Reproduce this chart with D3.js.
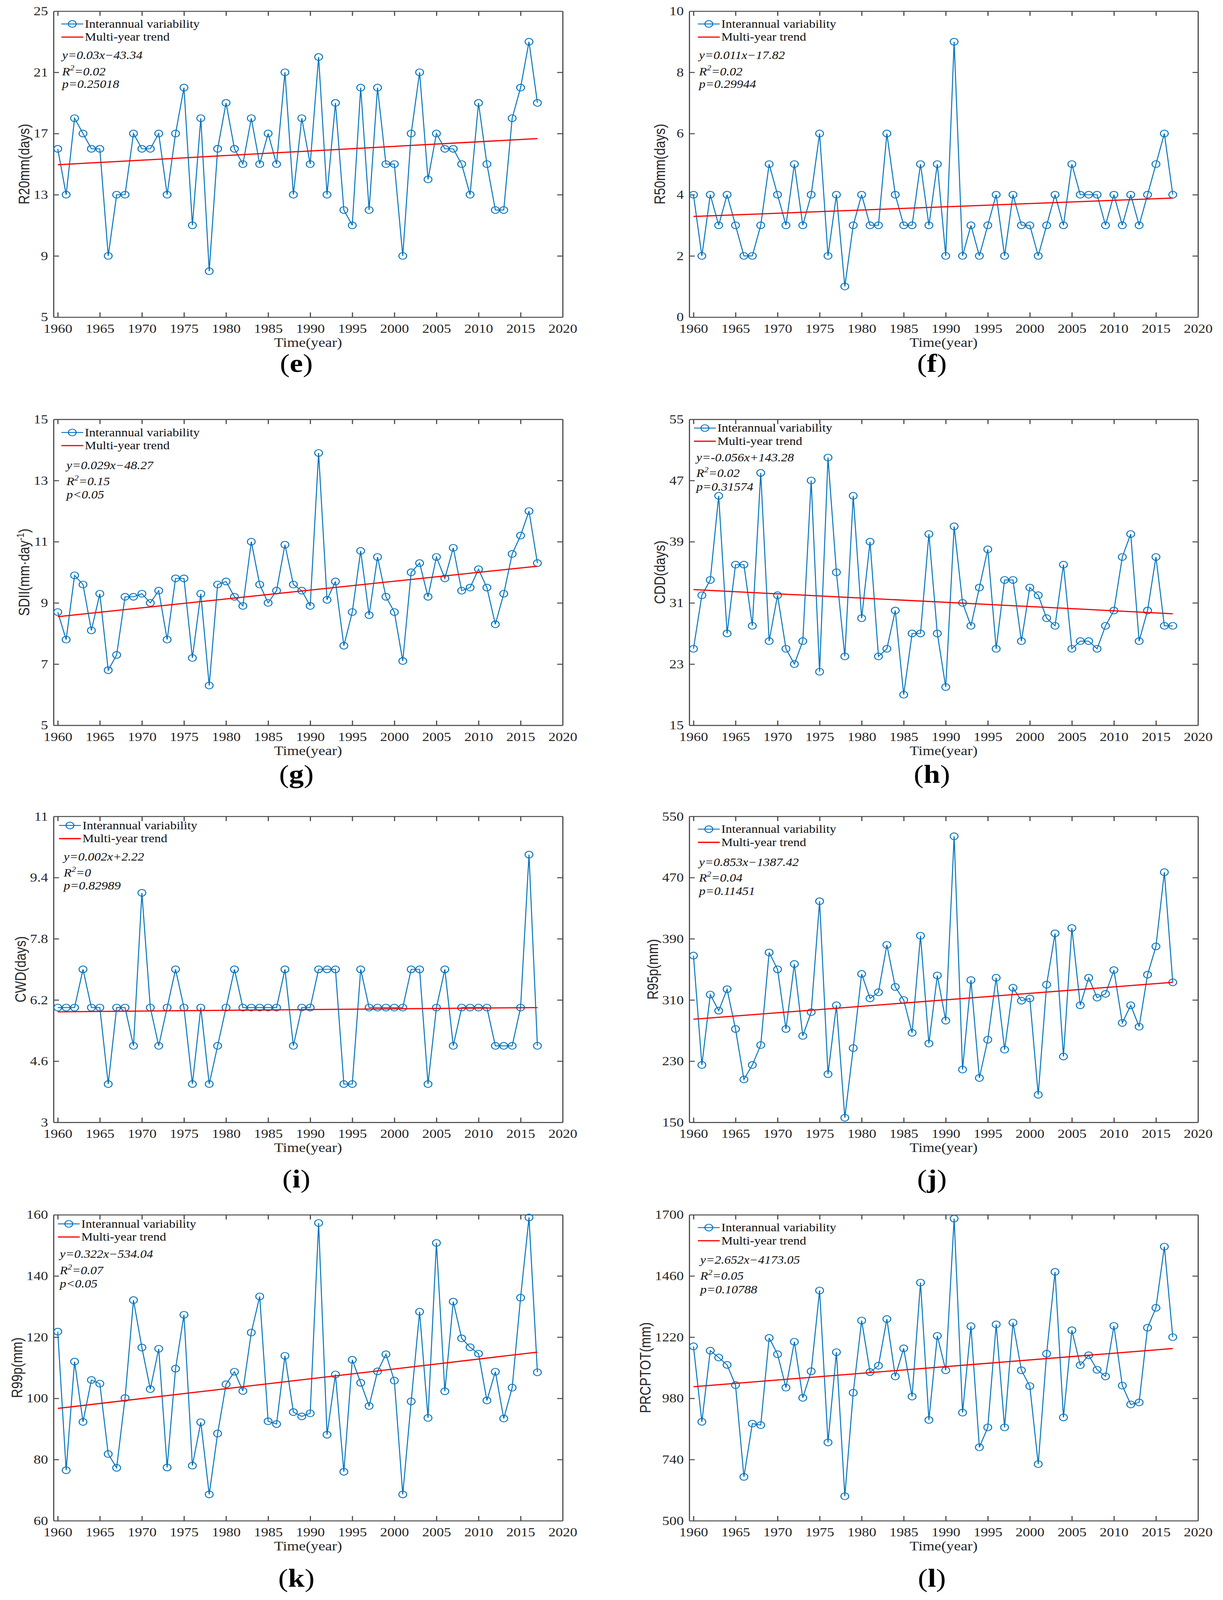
<!DOCTYPE html>
<html>
<head>
<meta charset="utf-8">
<script src="https://cdn.jsdelivr.net/npm/d3@7"></script>
<style>
  html, body { margin: 0; background: #fff; overflow: hidden; }
  svg { display: block; }
</style>
</head>
<body>
<div id="chart"></div>
<script>
// years on the x axis
var years = d3.range(1960, 2018);
var xTicks = [1960, 1965, 1970, 1975, 1980, 1985, 1990, 1995, 2000, 2005, 2010, 2015, 2020];

// series, 1960..2017
var r20mm = [16, 13, 18, 17, 16, 16, 9, 13, 13, 17,
    16, 16, 17, 13, 17, 20, 11, 18, 8, 16,
    19, 16, 15, 18, 15, 17, 15, 21, 13, 18,
    15, 22, 13, 19, 12, 11, 20, 12, 20, 15,
    15, 9, 17, 21, 14, 17, 16, 16, 15, 13,
    19, 15, 12, 12, 18, 20, 23, 19];
var r50mm = [4, 2, 4, 3, 4, 3, 2, 2, 3, 5,
    4, 3, 5, 3, 4, 6, 2, 4, 1, 3,
    4, 3, 3, 6, 4, 3, 3, 5, 3, 5,
    2, 9, 2, 3, 2, 3, 4, 2, 4, 3,
    3, 2, 3, 4, 3, 5, 4, 4, 4, 3,
    4, 3, 4, 3, 4, 5, 6, 4];
var sdii = [8.7, 7.8, 9.9, 9.6, 8.1, 9.3, 6.8, 7.3, 9.2, 9.2,
    9.3, 9.0, 9.4, 7.8, 9.8, 9.8, 7.2, 9.3, 6.3, 9.6,
    9.7, 9.2, 8.9, 11.0, 9.6, 9.0, 9.4, 10.9, 9.6, 9.4,
    8.9, 13.9, 9.1, 9.7, 7.6, 8.7, 10.7, 8.6, 10.5, 9.2,
    8.7, 7.1, 10.0, 10.3, 9.2, 10.5, 9.8, 10.8, 9.4, 9.5,
    10.1, 9.5, 8.3, 9.3, 10.6, 11.2, 12.0, 10.3];
var cdd = [25, 32, 34, 45, 27, 36, 36, 28, 48, 26,
    32, 25, 23, 26, 47, 22, 50, 35, 24, 45,
    29, 39, 24, 25, 30, 19, 27, 27, 40, 27,
    20, 41, 31, 28, 33, 38, 25, 34, 34, 26,
    33, 32, 29, 28, 36, 25, 26, 26, 25, 28,
    30, 37, 40, 26, 30, 37, 28, 28];
var cwd = [6, 6, 6, 7, 6, 6, 4, 6, 6, 5,
    9, 6, 5, 6, 7, 6, 4, 6, 4, 5,
    6, 7, 6, 6, 6, 6, 6, 7, 5, 6,
    6, 7, 7, 7, 4, 4, 7, 6, 6, 6,
    6, 6, 7, 7, 4, 6, 7, 5, 6, 6,
    6, 6, 5, 5, 5, 6, 10, 5];
var r95p = [368, 225, 317, 296, 324, 272, 206, 225, 251, 372,
    350, 272, 357, 263, 294, 439, 213, 303, 156, 247,
    344, 312, 320, 382, 327, 310, 267, 394, 253, 342,
    283, 524, 219, 336, 208, 258, 339, 245, 326, 309,
    312, 186, 330, 397, 236, 404, 303, 339, 313, 318,
    349, 280, 303, 275, 343, 380, 477, 333];
var r99p = [121.8, 76.5, 112, 92.3, 106, 104.8, 81.8, 77.3, 100.1, 132.1,
    116.6, 103, 116.2, 77.4, 109.7, 127.3, 78, 92.2, 68.6, 88.5,
    104.6, 108.7, 102.4, 121.5, 133.3, 92.5, 91.6, 113.9, 95.5, 94.1,
    95.1, 157.3, 88.1, 107.8, 76, 112.6, 105.1, 97.5, 108.8, 114.4,
    105.8, 68.6, 99, 128.3, 93.6, 150.8, 102.3, 131.6, 119.6, 116.7,
    114.6, 99.3, 108.7, 93.4, 103.5, 132.9, 159.1, 108.5];
var prcptot = [1184, 888, 1167, 1140, 1111, 1032, 672, 881, 875, 1217,
    1153, 1022, 1202, 982, 1086, 1403, 807, 1161, 596, 1002,
    1285, 1083, 1108, 1291, 1066, 1176, 987, 1434, 895, 1225,
    1090, 1685, 924, 1263, 788, 866, 1270, 866, 1277, 1090,
    1028, 722, 1155, 1476, 905, 1247, 1110, 1149, 1092, 1066,
    1264, 1030, 956, 964, 1257, 1335, 1575, 1220];

var series = [r20mm, r50mm, sdii, cdd, cwd, r95p, r99p, prcptot];

// multi-year trend, value at 1960 and at 2017
var trendFrom = [14.96, 3.29, 8.55, 32.74, 5.89, 284.8, 96.7, 1025.6];
var trendTo = [16.67, 3.89, 10.2, 29.58, 6.0, 333, 115.1, 1175.3];

// y tick labels per panel
var yTicks = [
    [5, 9, 13, 17, 21, 25],
    [0, 2, 4, 6, 8, 10],
    [5, 7, 9, 11, 13, 15],
    [15, 23, 31, 39, 47, 55],
    [3, 4.6, 6.2, 7.8, 9.4, 11],
    [150, 230, 310, 390, 470, 550],
    [60, 80, 100, 120, 140, 160],
    [500, 740, 980, 1220, 1460, 1700]
];

var yLabels = ["R20mm(days)", "R50mm(days)", "SDII(mm\u00b7day", "CDD(days)",
    "CWD(days)", "R95p(mm)", "R99p(mm)", "PRCPTOT(mm)"];
var panelLetters = ["e", "f", "g", "h", "i", "j", "k", "l"];
var equations = ["y=0.03x\u221243.34", "y=0.011x\u221217.82", "y=0.029x\u221248.27",
    "y=-0.056x+143.28", "y=0.002x+2.22", "y=0.853x\u22121387.42",
    "y=0.322x\u2212534.04", "y=2.652x\u22124173.05"];
var r2Values = ["0.02", "0.02", "0.15", "0.02", "0", "0.04", "0.07", "0.05"];
var pValues = ["=0.25018", "=0.29944", "<0.05", "=0.31574", "=0.82989", "=0.11451", "<0.05", "=0.10788"];
var legendNames = ["Interannual variability", "Multi-year trend"];

// layout, in the reference's 3130 x 4743 frame
var svgWidth = 3130;
var svgHeight = 4743;
var colLeft = [137, 1764];
var colRight = [1440, 3066];
var rowTop = [33, 1243, 2420, 3601];
var plotH = 907;
var letterGap = [162, 170, 193, 196];
var legendPos = [[20, 38], [22, 38], [20, 39], [12, 26], [14, 27], [22, 38], [11, 27], [22, 38]];
var eqPos = [[22, 142, 190, 228], [25, 142, 190, 228], [33, 148, 195, 234], [18, 125, 171, 211],
    [26, 131, 178, 217], [25, 147, 193, 233], [16, 128, 176, 216], [28, 145, 193, 233]];

var blue = "#0072BD";
var red = "#FF0000";
var axisColor = "#4d4d4d";
var textColor = "#262626";
var serif = "'Liberation Serif', 'Times New Roman', serif";
var sans = "'Liberation Sans', Arial, sans-serif";

// the window may be shorter than the figure, so the whole frame is fitted to it
var viewW = window.innerWidth || svgWidth;
var viewH = Math.min(window.innerHeight || svgHeight, svgHeight);

var svg = d3.select("#chart")
    .append("svg")
    .attr("width", viewW)
    .attr("height", viewH)
    .attr("viewBox", `0 0 ${svgWidth} ${svgHeight}`)
    .attr("preserveAspectRatio", "none");

svg.append("rect")
    .attr("width", svgWidth)
    .attr("height", svgHeight)
    .attr("fill", "#fff");

function styleAxis(g) {
    g.selectAll("path, line")
        .attr("stroke", axisColor)
        .attr("stroke-width", 3);
    g.selectAll("text")
        .attr("fill", textColor)
        .style("font-family", serif)
        .style("font-size", "37px");
}

series.forEach(function (vals, i) {
    var col = i % 2;
    var row = Math.floor(i / 2);
    var left = colLeft[col];
    var right = colRight[col];
    var top = rowTop[row];
    var bottom = top + plotH;
    var ticks = yTicks[i];

    var x = d3.scaleLinear().domain([1959.5, 2020]).range([left, right]);
    var y = d3.scaleLinear().domain([ticks[0], ticks[ticks.length - 1]]).range([bottom, top]);

    var g = svg.append("g");

    // axes on four sides, ticks pointing in
    var gb = g.append("g")
        .attr("transform", `translate(0,${bottom})`)
        .call(d3.axisBottom(x).tickValues(xTicks).tickFormat(d3.format("d"))
            .tickSize(-14).tickSizeOuter(0).tickPadding(20));
    var gt = g.append("g")
        .attr("transform", `translate(0,${top})`)
        .call(d3.axisTop(x).tickValues(xTicks).tickFormat("")
            .tickSize(-14).tickSizeOuter(0));
    var gl = g.append("g")
        .attr("transform", `translate(${left},0)`)
        .call(d3.axisLeft(y).tickValues(ticks).tickFormat(d => String(d))
            .tickSize(-14).tickSizeOuter(0).tickPadding(14));
    var gr = g.append("g")
        .attr("transform", `translate(${right},0)`)
        .call(d3.axisRight(y).tickValues(ticks).tickFormat("")
            .tickSize(-14).tickSizeOuter(0));
    [gb, gt, gl, gr].forEach(styleAxis);
    // no tick marks on the corners
    gb.selectAll(".tick").filter(d => d === 2020).select("line").remove();
    gt.selectAll(".tick").filter(d => d === 2020).select("line").remove();
    gl.selectAll(".tick").filter((d, k) => k === 0 || k === ticks.length - 1).select("line").remove();
    gr.selectAll(".tick").filter((d, k) => k === 0 || k === ticks.length - 1).select("line").remove();

    // interannual line + open circles
    var line = d3.line()
        .x((d, k) => x(years[k]))
        .y(d => y(d));
    g.append("path")
        .datum(vals)
        .attr("d", line)
        .attr("fill", "none")
        .attr("stroke", blue)
        .attr("stroke-width", 2.5);
    g.selectAll("circle.pt")
        .data(vals)
        .enter()
        .append("circle")
        .attr("class", "pt")
        .attr("cx", (d, k) => x(years[k]))
        .attr("cy", d => y(d))
        .attr("r", 10)
        .attr("fill", "none")
        .attr("stroke", blue)
        .attr("stroke-width", 2.5);

    // trend
    g.append("line")
        .attr("x1", x(years[0]))
        .attr("y1", y(trendFrom[i]))
        .attr("x2", x(years[years.length - 1]))
        .attr("y2", y(trendTo[i]))
        .attr("stroke", red)
        .attr("stroke-width", 3.5);

    // legend
    var lx = left + legendPos[i][0];
    var ly = top + legendPos[i][1];
    g.append("line")
        .attr("x1", lx).attr("x2", lx + 56)
        .attr("y1", ly).attr("y2", ly)
        .attr("stroke", blue).attr("stroke-width", 2.5);
    g.append("circle")
        .attr("cx", lx + 28).attr("cy", ly).attr("r", 10)
        .attr("fill", "none").attr("stroke", blue).attr("stroke-width", 2.5);
    g.append("line")
        .attr("x1", lx).attr("x2", lx + 56)
        .attr("y1", ly + 39).attr("y2", ly + 39)
        .attr("stroke", red).attr("stroke-width", 3.5);
    legendNames.forEach(function (name, k) {
        g.append("text")
            .attr("x", lx + 60)
            .attr("y", ly + k * 39 + 11)
            .style("font-family", serif)
            .style("font-size", "33px")
            .attr("fill", "#111")
            .text(name);
    });

    // regression text
    var ex = left + eqPos[i][0];
    var eqText = g.append("g")
        .style("font-family", serif)
        .style("font-size", "33px")
        .style("font-style", "italic")
        .attr("fill", "#111");
    eqText.append("text")
        .attr("x", ex).attr("y", top + eqPos[i][1])
        .text(equations[i]);
    var r2 = eqText.append("text")
        .attr("x", ex).attr("y", top + eqPos[i][2]);
    r2.append("tspan").text("R");
    r2.append("tspan").attr("dy", -14).style("font-size", "22px").text("2");
    r2.append("tspan").attr("dy", 14).text("=" + r2Values[i]);
    eqText.append("text")
        .attr("x", ex).attr("y", top + eqPos[i][3])
        .text("p" + pValues[i]);

    // y label, set past the widest tick label
    var tickW = d3.max(gl.selectAll("text").nodes(), n => n.getComputedTextLength());
    var ylab = g.append("text")
        .attr("transform", `translate(${left - 14 - tickW - 24},${(top + bottom) / 2}) rotate(-90)`)
        .attr("text-anchor", "middle")
        .attr("dy", "0.35em")
        .style("font-family", sans)
        .style("font-size", "38px")
        .attr("fill", textColor)
        .text(yLabels[i]);
    if (i === 2) {
        ylab.append("tspan").attr("dy", -14).style("font-size", "25px").text("-1");
        ylab.append("tspan").attr("dy", 14).text(")");
    }

    // x label
    g.append("text")
        .attr("x", (left + right) / 2)
        .attr("y", bottom + 88)
        .attr("text-anchor", "middle")
        .style("font-family", serif)
        .style("font-size", "39px")
        .attr("fill", textColor)
        .text("Time(year)");

    // panel letter
    var lt = g.append("text")
        .attr("x", (left + right) / 2 - 30)
        .attr("y", bottom + letterGap[row])
        .attr("text-anchor", "middle")
        .style("font-family", serif)
        .style("font-size", "76px")
        .attr("fill", "#000");
    lt.append("tspan").text("(");
    lt.append("tspan").style("font-weight", "bold").text(panelLetters[i]);
    lt.append("tspan").text(")");
});
</script>
</body>
</html>
